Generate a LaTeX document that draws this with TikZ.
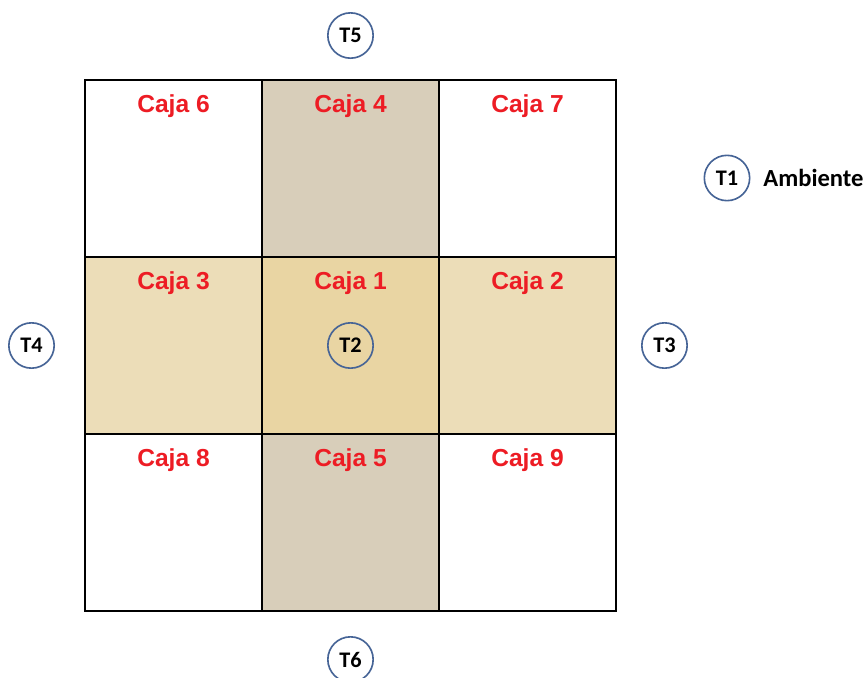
\documentclass[tikz,border=0pt]{standalone}
\usepackage{fontspec}
\setsansfont{Liberation Sans}
\newfontfamily\calibri{Carlito}
\usepackage{tikz}
\usetikzlibrary{positioning}
\definecolor{cajared}{RGB}{237, 28, 36}
\definecolor{sensorblue}{RGB}{70, 100, 150}
\definecolor{linen}{RGB}{216, 206, 186}
\definecolor{papyrus}{RGB}{233, 213, 163}
\definecolor{parchment}{RGB}{236, 221, 184}

\begin{document}
\begin{tikzpicture}[
    node distance=0pt,
    cell/.style={
        rectangle,
        draw=black,
        line width=1.9pt,
        outer sep=0pt,
        minimum width=5.31cm,
        minimum height=5.31cm
    },
    cajatxt/.style={
        font=\sffamily\bfseries\fontsize{21}{24}\selectfont,
        text=cajared,
        inner sep=0pt
    },
    sensor/.style={
        circle,
        draw=sensorblue,
        line width=1.4pt,
        minimum size=1.36cm,
        inner sep=0pt,
        font=\calibri\bfseries\fontsize{19}{22}\selectfont
    }
]
\useasboundingbox (0,0) rectangle (25.98,-20.31);

% Cells
\node (c6) [cell, anchor=north west] at (2.55,-2.4) {};
\node (c4) [cell, fill=linen, right=of c6] {};
\node (c7) [cell, right=of c4] {};
\node (c3) [cell, fill=parchment, below=of c6] {};
\node (c1) [cell, fill=papyrus, right=of c3] {};
\node (c2) [cell, fill=parchment, right=of c1] {};
\node (c8) [cell, below=of c3] {};
\node (c5) [cell, fill=linen, right=of c8] {};
\node (c9) [cell, right=of c5] {};

% Redraw borders on top of fills
\draw [line width=1.9pt] (c6.north west) rectangle (c9.south east);
\foreach \c in {c4, c3, c1, c2, c5} {
    \draw [line width=1.9pt] (\c.north west) rectangle (\c.south east);
}

% Labels
\foreach \c/\n in {c6/6, c4/4, c7/7, c3/3, c1/1, c2/2, c8/8, c5/5, c9/9} {
    \node (l\n) [cajatxt, below=0.43cm of \c.north] {Caja \n};
}

% Sensors
\node (T5) [sensor, above=0.63cm of c4] {T5};
\node (T6) [sensor, below=0.75cm of c5] {T6};
\node (T4) [sensor, left=0.9cm of c3] {T4};
\node (T3) [sensor, right=0.75cm of c2] {T3};
\node (T2) [sensor] at (c1) {T2};
\node (T1) [sensor] at (21.81,-5.34) {T1};
\node (amb) [right=0.38cm of T1, inner sep=0pt, font=\calibri\bfseries\fontsize{21}{25}\selectfont] {Ambiente};

\end{tikzpicture}
\end{document}
